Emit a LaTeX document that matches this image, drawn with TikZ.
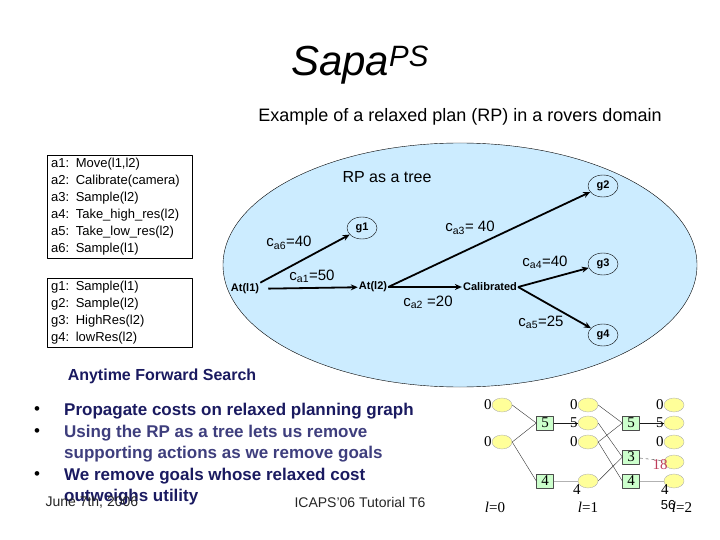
\documentclass[tikz,border=0pt]{standalone}
\usepackage{fontspec}
\setmainfont{Liberation Sans}
\setsansfont{Liberation Sans}
\newfontfamily\pgfont{Liberation Serif}
\usetikzlibrary{shapes.geometric,arrows.meta}
\definecolor{rpblue}{RGB}{204,236,255}
\definecolor{navy}{RGB}{26,26,96}
\definecolor{navylight}{RGB}{62,62,125}
\definecolor{litfill}{RGB}{255,255,153}
\definecolor{actfill}{RGB}{204,255,204}
\definecolor{costred}{RGB}{190,60,90}
\newcommand{\fs}[2][]{\fontsize{#2}{\ifx&#1&#2\else#1\fi}\selectfont}
\tikzset{
  listbox/.style={draw, thin, inner xsep=4pt, inner ysep=3pt, align=left, anchor=north west, font=\fs[17]{13}, text width=137pt},
  fact/.style={font=\fs{11}\bfseries, inner sep=1pt},
  goal/.style={draw, thin, ellipse, font=\fs{11}\bfseries, minimum width=30pt, minimum height=22pt, inner sep=0pt},
  cost/.style={font=\fs{15}, inner sep=1pt},
  arr/.style={->, line width=1.8pt, >={Stealth[length=7pt,width=6pt]}},
  bullet/.style={font=\fs{17}, anchor=west, inner sep=0pt},
  lit/.style={ellipse, draw=black!30, fill=litfill, minimum width=20pt, minimum height=14pt, inner sep=0pt},
  act/.style={draw=black!70, fill=actfill, font=\pgfont\fs{15}, minimum width=17pt, minimum height=14pt, inner sep=0pt},
  num/.style={font=\pgfont\fs{15}, inner sep=0pt}
}
\begin{document}
\begin{tikzpicture}[x=1pt, y=-1pt, line join=round]
\useasboundingbox (0,0) rectangle (720,540);

\node (title) at (360,65) {\fs{42}\itshape Sapa\textsuperscript{PS}};
\node (subtitle) at (460,117) {\fs{18}Example of a relaxed plan (RP) in a rovers domain};

\node[listbox] (actions) at (47,155) {a1: Move(l1,l2)\\a2: Calibrate(camera)\\a3: Sample(l2)\\a4: Take\_high\_res(l2)\\a5: Take\_low\_res(l2)\\a6: Sample(l1)};
\node[listbox] (goals) at (47,278) {g1: Sample(l1)\\g2: Sample(l2)\\g3: HighRes(l2)\\g4: lowRes(l2)};

\fill[rpblue, draw=black, thin] (460,265) ellipse [x radius=237pt, y radius=122pt];
\node (rptitle) at (387,177) {\fs{16}RP as a tree};

\node[fact] (atl1) at (245,289) {At(l1)};
\node[fact] (atl2) at (373,287) {At(l2)};
\node[fact] (calib) at (490,287) {Calibrated};
\node[goal] (g1) at (362,228) {g1};
\node[goal] (g2) at (603,186) {g2};
\node[goal] (g3) at (603,264) {g3};
\node[goal] (g4) at (603,335) {g4};

\draw[arr] (atl1.north east) -- (g1);
\draw[arr, shorten <=8pt] (atl1) -- (atl2);
\draw[arr] (atl2.east) -- (g2);
\draw[arr] (atl2) -- (calib);
\draw[arr] (calib.east) -- (g3);
\draw[arr] (calib.east) -- (g4);

\node[cost] (c6) at (289,243) {c\textsubscript{a6}=40};
\node[cost] (c1) at (312,276) {c\textsubscript{a1}=50};
\node[cost] (c3) at (470,228) {c\textsubscript{a3}= 40};
\node[cost] (c2) at (428,302) {c\textsubscript{a2} =20};
\node[cost] (c4) at (545,262) {c\textsubscript{a4}=40};
\node[cost] (c5) at (541,322) {c\textsubscript{a5}=25};

\node[font=\fs{16}\bfseries, text=navy] (search) at (162,376) {Anytime Forward Search};
\node[bullet] (b1) at (34,411) {\textbullet};
\node[bullet] (b2) at (34,433) {\textbullet};
\node[bullet] (b3) at (34,476) {\textbullet};
\node[bullet, text=navy, font=\fs{17}\bfseries] (p1) at (64,411) {Propagate costs on relaxed planning graph};
\node[bullet, text=navylight, font=\fs{17}\bfseries] (p2) at (64,433) {Using the RP as a tree lets us remove};
\node[bullet, text=navylight, font=\fs{17}\bfseries] (p3) at (64,454) {supporting actions as we remove goals};
\node[bullet, text=navy, font=\fs{17}\bfseries] (p4) at (64,476) {We remove goals whose relaxed cost};
\node[bullet, text=navy, font=\fs{17}\bfseries] (p5) at (64,497) {outweighs utility};

\node[anchor=west, font=\fs{14}, text=black!85] (date) at (42,502) {June 7th, 2006};
\node[font=\fs{14}, text=black!85] (venue) at (360,502) {ICAPS'06 Tutorial T6};

\node[lit] (l0a) at (502,405) {};
\node[lit] (l0b) at (502,442) {};
\node[act] (a0a) at (545,423) {5};
\node[act] (a0b) at (545,481) {4};
\node[lit] (l1a) at (588,405) {};
\node[lit] (l1b) at (588,423) {};
\node[lit] (l1c) at (588,442) {};
\node[lit] (l1d) at (588,481) {};
\node[act] (a1a) at (631,423) {5};
\node[act] (a1b) at (631,457) {3};
\node[act] (a1c) at (631,481) {4};
\node[lit] (l2a) at (674,405) {};
\node[lit] (l2b) at (674,423) {};
\node[lit] (l2c) at (674,442) {};
\node[lit] (l2d) at (674,462) {};
\node[lit] (l2e) at (674,481) {};

\draw[black!80, thin] (l0a.east) -- (a0a.west);
\draw[black!80, thin] (l0b.east) -- (a0a.west);
\draw[black!80, thin] (l0b.east) -- (a0b.west);
\draw[black!90] (a0a) -- (l1b);
\draw[black!30] (a0b) -- (l1d);
\draw[black!80, thin] (l1a.east) -- (a1a.west);
\draw[black!80, thin] (l1b.east) -- (a1b.west);
\draw[black!80, thin] (l1c.east) -- (a1a.west);
\draw[black!80, thin] (l1c.east) -- (a1c.west);
\draw[black!80, thin] (l1d.east) -- (a1b.west);
\draw[black!90] (a1a) -- (l2b);
\draw[black!80, dashed] (a1b) -- (l2d);
\draw[black!30] (a1c) -- (l2e);

\node[num, anchor=east] (n0a) at (l0a.west) {0};
\node[num, anchor=east] (n0b) at (l0b.west) {0};
\node[num, anchor=east] (n1a) at (l1a.west) {0};
\node[num, anchor=east] (n1b) at (l1b.west) {5};
\node[num, anchor=east] (n1c) at (l1c.west) {0};
\node[num, anchor=north east] (n1d) at ([yshift=2pt]l1d.south west) {4};
\node[num, anchor=east] (n2a) at (l2a.west) {0};
\node[num, anchor=east] (n2b) at (l2b.west) {5};
\node[num, anchor=east] (n2c) at (l2c.west) {0};
\node[num, anchor=east, text=costred] (n2d) at ([xshift=4pt,yshift=-3pt]l2d.west) {18};
\node[num, anchor=north east] (n2e) at ([xshift=2pt,yshift=2pt]l2e.south west) {4};

\node[num] (lev0) at (495,507) {\textit{l}=0};
\node[num] (lev1) at (588,507) {\textit{l}=1};
\node[num] (lev2) at (682,507) {\textit{l}=2};
\node[font=\fs{13}] (page) at (668,505) {56};
\end{tikzpicture}
\end{document}
